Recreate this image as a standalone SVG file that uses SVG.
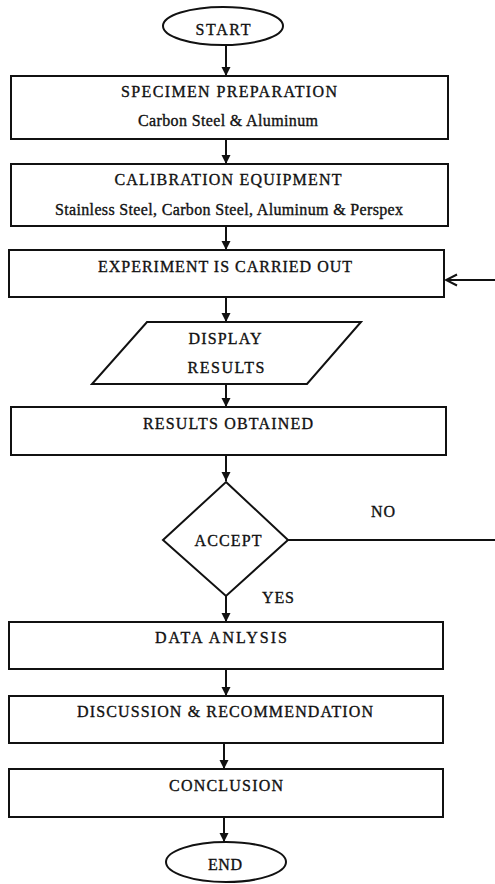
<svg xmlns="http://www.w3.org/2000/svg" width="495" height="884" viewBox="0 0 495 884">
  <style>
    .shape { fill: #ffffff; stroke: #111111; stroke-width: 2; }
    .link { fill: none; stroke: #111111; stroke-width: 2; }
    text { font-family: "Liberation Serif", "Times New Roman", serif; fill: #111111; text-anchor: middle; stroke: #111111; stroke-width: 0.35; }
    .t { font-size: 16px; }
    .s { font-size: 16px; }
  </style>
  <defs>
    <marker id="head" markerUnits="userSpaceOnUse" markerWidth="10" markerHeight="10" refX="9" refY="5" orient="auto">
      <path d="M0,0.5 L9,5 L0,9.5 Z" fill="#111111"/>
    </marker>
    <marker id="open" markerUnits="userSpaceOnUse" markerWidth="14" markerHeight="14" refX="12" refY="7" orient="auto">
      <path d="M1,1.5 L12,7 L1,12.5" fill="none" stroke="#111111" stroke-width="2"/>
    </marker>
  </defs>

  <rect x="0" y="0" width="495" height="884" fill="#ffffff"/>

  <!-- connectors -->
  <g id="connectors">
    <line class="link" x1="226" y1="45" x2="226" y2="76" marker-end="url(#head)"/>
    <line class="link" x1="226" y1="139" x2="226" y2="164" marker-end="url(#head)"/>
    <line class="link" x1="226" y1="226" x2="226" y2="250" marker-end="url(#head)"/>
    <line class="link" x1="226" y1="297" x2="226" y2="322" marker-end="url(#head)"/>
    <line class="link" x1="226" y1="384" x2="226" y2="407" marker-end="url(#head)"/>
    <line class="link" x1="226" y1="455" x2="226" y2="481" marker-end="url(#head)"/>
    <line class="link" x1="226" y1="596" x2="226" y2="622" marker-end="url(#head)"/>
    <line class="link" x1="226" y1="669" x2="226" y2="696" marker-end="url(#head)"/>
    <line class="link" x1="224" y1="743" x2="224" y2="769" marker-end="url(#head)"/>
    <line class="link" x1="224" y1="817" x2="224" y2="842" marker-end="url(#head)"/>
    <!-- rejected results loop back to the experiment -->
    <line class="link" x1="288" y1="540" x2="495" y2="540"/>
    <line class="link" x1="495" y1="280" x2="446" y2="280" marker-end="url(#open)"/>
  </g>

  <g id="start">
    <ellipse class="shape" cx="223" cy="26" rx="60" ry="19"/>
    <text class="t" x="223" y="35" textLength="55" lengthAdjust="spacing">START</text>
  </g>

  <g id="specimen">
    <rect class="shape" x="11" y="76" width="437" height="63"/>
    <text class="t" x="229" y="97" textLength="216" lengthAdjust="spacing">SPECIMEN PREPARATION</text>
    <text class="s" x="228" y="126" textLength="180" lengthAdjust="spacing">Carbon Steel &amp; Aluminum</text>
  </g>

  <g id="calibration">
    <rect class="shape" x="11" y="164" width="437" height="62"/>
    <text class="t" x="228" y="185" textLength="227" lengthAdjust="spacing">CALIBRATION EQUIPMENT</text>
    <text class="s" x="229" y="215" textLength="348" lengthAdjust="spacing">Stainless Steel, Carbon Steel, Aluminum &amp; Perspex</text>
  </g>

  <g id="experiment">
    <rect class="shape" x="9" y="250" width="435" height="47"/>
    <text class="t" x="225" y="272" textLength="254" lengthAdjust="spacing">EXPERIMENT IS CARRIED OUT</text>
  </g>

  <g id="display">
    <polygon class="shape" points="147,322 361,322 307,384 92,384"/>
    <text class="t" x="225" y="344" textLength="73" lengthAdjust="spacing">DISPLAY</text>
    <text class="t" x="226" y="373" textLength="77" lengthAdjust="spacing">RESULTS</text>
  </g>

  <g id="obtained">
    <rect class="shape" x="11" y="407" width="435" height="48"/>
    <text class="t" x="228" y="429" textLength="170" lengthAdjust="spacing">RESULTS OBTAINED</text>
  </g>

  <g id="accept">
    <polygon class="shape" points="226,482 288,540 226,596 163,540"/>
    <text class="t" x="228" y="546" textLength="67" lengthAdjust="spacing">ACCEPT</text>
    <text class="t" x="383" y="517" textLength="24" lengthAdjust="spacing">NO</text>
    <text class="t" x="278" y="603" textLength="32" lengthAdjust="spacing">YES</text>
  </g>

  <g id="analysis">
    <rect class="shape" x="9" y="622" width="434" height="47"/>
    <text class="t" x="221" y="643" textLength="132" lengthAdjust="spacing">DATA ANLYSIS</text>
  </g>

  <g id="discussion">
    <rect class="shape" x="9" y="696" width="434" height="47"/>
    <text class="t" x="225" y="717" textLength="296" lengthAdjust="spacing">DISCUSSION &amp; RECOMMENDATION</text>
  </g>

  <g id="conclusion">
    <rect class="shape" x="9" y="769" width="434" height="48"/>
    <text class="t" x="226" y="791" textLength="114" lengthAdjust="spacing">CONCLUSION</text>
  </g>

  <g id="end">
    <ellipse class="shape" cx="226" cy="862" rx="60" ry="20"/>
    <text class="t" x="225" y="870" textLength="34" lengthAdjust="spacing">END</text>
  </g>
</svg>
